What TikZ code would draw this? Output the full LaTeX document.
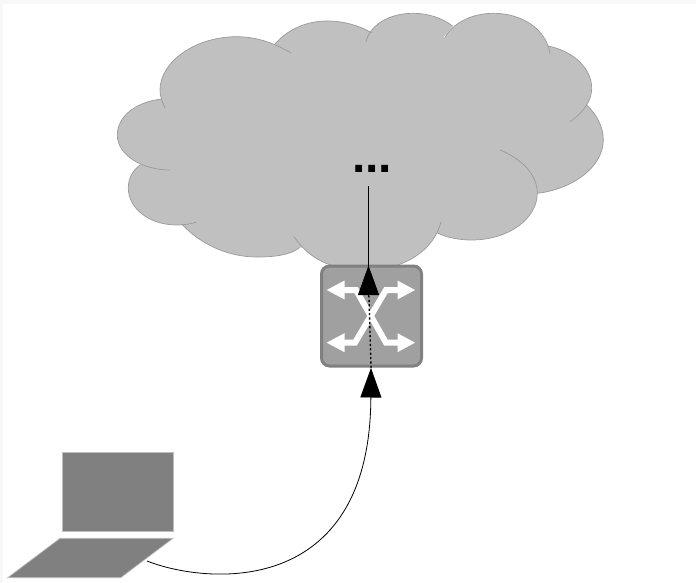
\documentclass[tikz,border=0pt]{standalone}
\usepackage{fontspec}
\setmainfont{Liberation Sans}
\usetikzlibrary{arrows.meta}
\definecolor{cloudgray}{HTML}{C0C0C0}
\definecolor{cloudedge}{HTML}{9A9A9A}
\definecolor{switchfill}{HTML}{A0A0A0}
\definecolor{switchedge}{HTML}{808080}
\definecolor{laptopfill}{HTML}{808080}
\definecolor{laptopedge}{HTML}{BDBDBD}
\definecolor{frame}{HTML}{F8F8F8}
\tikzset{
  lobefill/.style={fill=cloudgray,draw=none},
  lobeline/.style={draw=cloudedge,line width=0.7pt,line cap=round},
  switchbox/.style={draw=switchedge,fill=switchfill,line width=3pt,rounded corners=8pt,minimum width=100pt,minimum height=100pt,inner sep=0pt},
  screenbox/.style={fill=laptopfill,draw=laptopedge,line width=0.7pt,minimum width=110.5pt,minimum height=79pt,inner sep=0pt},
  deckshape/.style={fill=laptopfill,draw=laptopedge,line width=0.7pt},
  whiteshaft/.style={draw=white,line width=6pt,line join=miter},
  whitehead/.style={fill=white,draw=none},
  link/.style={draw=black,line width=0.8pt},
  bigtip/.style={-{Triangle[length=29.5pt,width=21pt]}},
  dotlink/.style={draw=black,line width=1.4pt,dash pattern=on 2.2pt off 2.2pt},
  dotstext/.style={font=\bfseries\fontsize{48}{48}\selectfont,inner sep=0pt,anchor=base}
}
\newcommand\cloudlobes{%
  \lobe{(290.7,52.7) .. controls (272,42) and (255,36.7) .. (236.7,36.7) .. controls (195,36.7) and (160,62) .. (160,90) .. controls (160,96) and (162,102) .. (165,108)}%
  \lobe{(161.7,99) .. controls (135,102) and (117.3,117) .. (117.3,135) .. controls (117.3,155) and (142,170) .. (170,170)}%
  \lobe{(140,165) .. controls (132,171) and (128.3,179) .. (128.3,188) .. controls (128.3,209) and (150,225) .. (176.7,225) .. controls (184,225) and (190,224) .. (196,222.3)}%
  \lobe{(181.7,224) .. controls (200,244) and (228,257) .. (256.7,257) .. controls (275,257) and (290,255) .. (299,248)}%
  \lobe{(294,236.7) .. controls (305,252) and (322,270) .. (365,270) .. controls (405,270) and (434,250) .. (441,221.7)}%
  \lobe{(437.3,233) .. controls (448,238) and (460,240) .. (471.7,240) .. controls (508,240) and (537.3,219) .. (537.3,193) .. controls (537.3,175) and (522,159) .. (500,150)}%
  \lobe{(537.3,193.3) .. controls (574,189) and (603.3,166) .. (603.3,140) .. controls (603.3,127) and (597,115) .. (586.7,105)}%
  \lobe{(570,121.7) .. controls (583,113) and (591.7,101) .. (591.7,88.3) .. controls (591.7,68) and (573,51) .. (548,46)}%
  \lobe{(550,53.3) .. controls (546,29) and (522,13.3) .. (493.3,13.3) .. controls (472,13.3) and (453,23) .. (445,37.3)}%
  \lobe{(452.7,26) .. controls (442,18) and (428,13.3) .. (413.3,13.3) .. controls (389,13.3) and (370,25) .. (366,41.7)}%
  \lobe{(371.7,32.7) .. controls (358,25) and (343,21) .. (326.7,21) .. controls (306,21) and (287,30) .. (275,44)}%
}
\begin{document}
\begin{tikzpicture}[x=1pt,y=-1pt]
\useasboundingbox (0,0) rectangle (696,583);
\fill[frame] (0,0) rectangle (696,583);
\fill[white] (3,4) rectangle (696,583);
% cloud
\def\lobe#1{\path[lobefill] #1 -- (360,140) -- cycle;}
\cloudlobes
\path[lobefill] (275,44) -- (366,41.7) -- (445,37.3) -- (550,53.3) -- (586.7,105) -- (570,121.7) -- (537.3,193.3) -- (441,221.7) -- (299,248) -- (181.7,224) -- (140,165) -- (165,108) -- cycle;
\def\lobe#1{\path[lobeline] #1;}
\cloudlobes
% dots
\node[dotstext] (dots) at (372,172.7) {...};
\coordinate (dotsfoot) at (368.5,186);
% switch
\node[switchbox] (switch) at (371.5,316) {};
\coordinate (switchin) at (371,368);
\coordinate (switchout) at (368.5,265.5);
\path[whiteshaft] (340,290) -- (356,290) -- (386,342.7) -- (402,342.7);
\path[whiteshaft] (402,290) -- (386,290) -- (355,342.7) -- (340,342.7);
\path[whitehead] (326.7,290) -- (344.5,280.5) -- (344.5,299.5) -- cycle;
\path[whitehead] (415,290) -- (397.5,280.5) -- (397.5,299.5) -- cycle;
\path[whitehead] (326.7,342.7) -- (344.5,333.2) -- (344.5,352.2) -- cycle;
\path[whitehead] (415,342.7) -- (397.5,333.2) -- (397.5,352.2) -- cycle;
% laptop
\node[screenbox] (screen) at (117.7,491.5) {};
\path[deckshape] (60,538.3) -- (173,538.3) -- (120.7,577.7) -- (7.7,577.7) -- cycle;
\coordinate (laptop) at (147,561);
% connectors
\draw[link,bigtip] (laptop) .. controls (205,584) and (370,600) .. (switchin);
\draw[dotlink] (switchin) -- (369,296);
\draw[link,bigtip] (368.5,297) -- (switchout);
\draw[link] (switchout) -- (dotsfoot);
\end{tikzpicture}
\end{document}
